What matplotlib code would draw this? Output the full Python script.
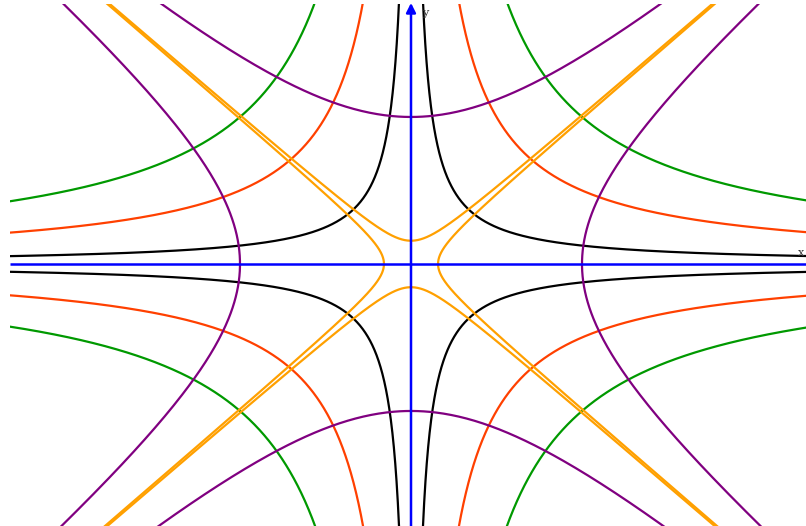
import numpy as np
import matplotlib.pyplot as plt

# hyperbolas xy = c
xy_consts = [0.5, 2.0, 4.0]
xy_colors = ['black', '#ff4000', '#009900']
# hyperbolas x^2 - y^2 = +-k
diff_consts = [0.1, 4.0]
diff_colors = ['#ffa000', '#800080']

xmin, xmax = -4.69, 4.69
ymin, ymax = -3.565, 3.537

fig = plt.figure(figsize=(8.06, 5.26), dpi=100)
ax = fig.add_axes([10/806, 0, 802/806, 522/526])
ax.set_xlim(xmin, xmax)
ax.set_ylim(ymin, ymax)
ax.axis('off')

lw = 1.6
for c, col in zip(xy_consts, xy_colors):
    x = np.geomspace(c/4.0, 5.0, 600)
    y = c/x
    for sx in (1, -1):
        for sy in (1, -1):
            ax.plot(sx*x, sy*y, color=col, lw=lw)

t = np.linspace(-3.5, 3.5, 800)
for k, col in zip(diff_consts, diff_colors):
    r = np.sqrt(k)
    for s in (1, -1):
        ax.plot(s*r*np.cosh(t), r*np.sinh(t), color=col, lw=lw)
        ax.plot(r*np.sinh(t), s*r*np.cosh(t), color=col, lw=lw)

# axes with arrows
ax.annotate('', xy=(0, ymax + 0.015), xytext=(0, ymin - 0.1),
            arrowprops=dict(arrowstyle='-|>', color='blue', lw=1.8,
                            mutation_scale=14, shrinkA=0, shrinkB=0),
            annotation_clip=False)
ax.plot([xmin, xmax], [0, 0], color='blue', lw=1.8, solid_capstyle='butt')
ax.text(0.17, ymax - 0.12, 'y', family='DejaVu Serif', fontsize=8,
        color='#333333', ha='center', va='center')
ax.text(xmax - 0.13, 0.15, 'x', family='DejaVu Serif', fontsize=8,
        color='#333333', ha='center', va='center', clip_on=False)

fig.savefig('out.png', dpi=100)
